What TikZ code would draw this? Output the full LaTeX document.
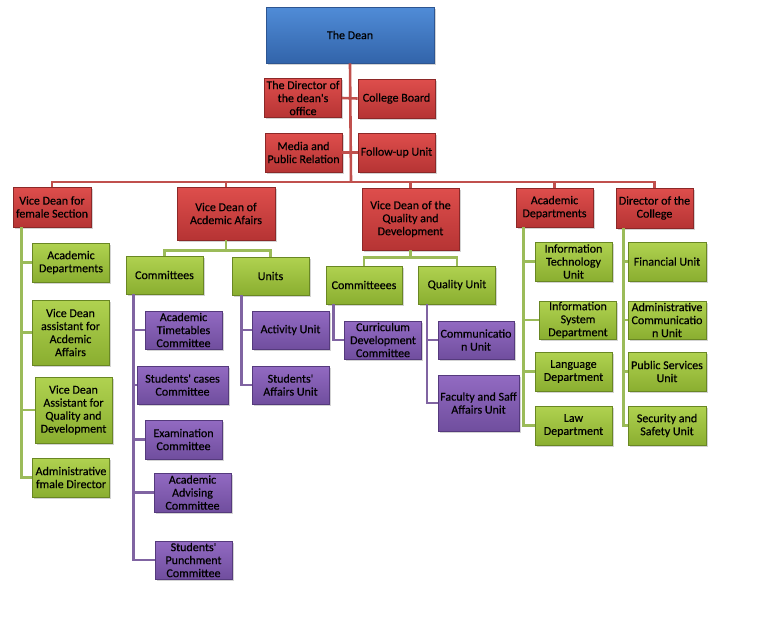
\documentclass[tikz,border=0pt]{standalone}
\usepackage{fontspec}
\setmainfont{Carlito}
\newfontfamily\chartfont{Carlito}[FakeBold=0.35]
\usetikzlibrary{positioning, shadows}
\definecolor{deantop}{RGB}{80,140,215}
\definecolor{deanbottom}{RGB}{50,100,170}
\definecolor{deanborder}{RGB}{45,85,145}
\definecolor{headtop}{RGB}{222,78,76}
\definecolor{headbottom}{RGB}{182,52,52}
\definecolor{headborder}{RGB}{140,40,40}
\definecolor{unittop}{RGB}{176,210,80}
\definecolor{unitbottom}{RGB}{138,174,48}
\definecolor{unitborder}{RGB}{105,135,35}
\definecolor{subtop}{RGB}{146,106,194}
\definecolor{subbottom}{RGB}{112,78,158}
\definecolor{subborder}{RGB}{85,58,125}
\definecolor{redwire}{RGB}{192,80,77}
\definecolor{greenwire}{RGB}{155,187,89}
\definecolor{purplewire}{RGB}{128,100,162}

\begin{document}
\begin{tikzpicture}[x=1pt, y=-1pt,
        box/.style={rectangle, line width=0.8pt, minimum width=77pt, minimum height=39pt, inner sep=0.5pt, align=center, font=\chartfont\fontsize{12}{13}\selectfont, drop shadow={opacity=0.35, shadow xshift=1.5pt, shadow yshift=-1.5pt}},
        dean/.style={box, draw=deanborder, top color=deantop, bottom color=deanbottom},
        head/.style={box, draw=headborder, top color=headtop, bottom color=headbottom},
        unit/.style={box, draw=unitborder, top color=unittop, bottom color=unitbottom},
        sub/.style={box, draw=subborder, top color=subtop, bottom color=subbottom},
        redline/.style={draw=redwire, line width=2.6pt},
        greenline/.style={draw=greenwire, line width=2.6pt},
        purpleline/.style={draw=purplewire, line width=2.6pt}
    ]
        \useasboundingbox (0,0) rectangle (768,632);

        \node[dean, minimum width=168pt, minimum height=56pt] (dean) at (350,35) {The Dean};
        \node[head] (director) at (303,98) {The Director  of\\the dean's\\office};
        \node[head] (board) at (396.5,98.5) {College Board};
        \node[head] (media) at (303.5,152.5) {Media and\\Public Relation};
        \node[head] (follow) at (396.5,152.5) {Follow-up Unit};
        \coordinate (bus) at (351,182);

        \node[head, minimum width=78pt, minimum height=40pt] (female) at (52,207) {Vice Dean for\\female Section};
        \node[head, minimum width=98pt, minimum height=53pt] (acad) at (226,213.5) {Vice Dean of\\Acdemic Afairs};
        \node[head, minimum width=97pt, minimum height=62pt] (qual) at (410.5,219) {Vice Dean of the\\Quality and\\Development};
        \node[head] (depts) at (554.5,207.5) {Academic\\Departments};
        \node[head, minimum height=40pt] (college) at (654.5,208) {Director of the\\College};

        \node[unit] (fa1) at (71,262.5) {Academic\\Departments};
        \node[unit, minimum height=65pt] (fa2) at (70.5,332.5) {Vice  Dean\\assistant for\\Acdemic\\Affairs};
        \node[unit, minimum height=66pt] (fa3) at (73.5,410) {Vice Dean\\Assistant for\\Quality and\\Development};
        \node[unit] (fa4) at (71,477.5) {Administrative\\fmale Director};

        \node[unit, minimum height=38pt] (comm) at (164.5,275) {Committees};
        \node[unit, minimum height=38pt] (units) at (270.5,276) {Units};
        \node[sub, minimum height=38pt] (k1) at (183.5,330) {Academic\\Timetables\\Committee};
        \node[sub, minimum width=91pt, minimum height=38pt] (k2) at (182.5,385) {Students' cases\\Committee};
        \node[sub] (k3) at (183.5,439.5) {Examination\\Committee};
        \node[sub] (k4) at (192.5,492.5) {Academic\\Advising\\Committee};
        \node[sub, minimum height=38pt] (k5) at (193.5,560) {Students'\\Punchment\\Committee};
        \node[sub, minimum height=38pt] (u1) at (290.5,330) {Activity Unit};
        \node[sub, minimum height=38pt] (u2) at (290.5,385) {Students'\\Affairs  Unit};

        \node[unit, minimum width=76pt, minimum height=38pt] (qcomm) at (364,285) {Committeees};
        \node[unit, minimum height=38pt] (qunit) at (457,285) {Quality Unit};
        \node[sub, minimum height=38pt] (q1) at (383,340) {Curriculum\\Development\\Committee};
        \node[sub, minimum width=76pt, minimum height=38pt] (q2) at (476,340) {Communicatio\\n Unit};
        \node[sub, minimum width=81pt, minimum height=56pt] (q3) at (478.5,403) {Faculty and Saff\\Affairs Unit};

        \node[unit] (d1) at (573.5,261.5) {Information\\Technology\\Unit};
        \node[unit, minimum height=38pt] (d2) at (578,320) {Information\\System\\Department};
        \node[unit] (d3) at (573.5,371.5) {Language\\Department};
        \node[unit] (d4) at (573.5,425.5) {Law\\Department};

        \node[unit, minimum width=78pt] (c1) at (667,261.5) {Financial Unit};
        \node[unit, minimum width=78pt, minimum height=38pt] (c2) at (667,320) {Administrative\\Communicatio\\n Unit};
        \node[unit, minimum width=78pt] (c3) at (667,371.5) {Public Services\\Unit};
        \node[unit, minimum width=78pt] (c4) at (667,425.5) {Security and\\Safety Unit};

        \draw[redline] (dean.south) -- (bus);
        \draw[redline] (director.east) -- (board.west);
        \draw[redline] (media.east) -- (follow.west);
        \foreach \n in {female, acad, qual, depts, college}
            \draw[redline] (\n.north) |- (bus);

        \foreach \n in {fa1, fa2, fa3, fa4}
            \draw[greenline] ([xshift=9pt]female.south west) |- (\n.west);
        \draw[greenline] (acad.south) -- ++(0,10) coordinate (acadj) (comm.north) |- (acadj) -| (units.north);
        \draw[greenline] (qual.south) -- ++(0,7) coordinate (qualj) (qcomm.north) |- (qualj) -| (qunit.north);
        \foreach \n in {d1, d2, d3, d4}
            \draw[greenline] ([xshift=8pt]depts.south west) |- (\n.west);
        \foreach \n in {c1, c2, c3, c4}
            \draw[greenline] ([xshift=8pt]college.south west) |- (\n.west);

        \foreach \n in {k1, k2, k3, k4, k5}
            \draw[purpleline] ([xshift=8pt]comm.south west) |- (\n.west);
        \foreach \n in {u1, u2}
            \draw[purpleline] ([xshift=10pt]units.south west) |- (\n.west);
        \draw[purpleline] ([xshift=8pt]qcomm.south west) |- (q1.west);
        \foreach \n in {q2, q3}
            \draw[purpleline] ([xshift=9pt]qunit.south west) |- (\n.west);
    \end{tikzpicture}
\end{document}
